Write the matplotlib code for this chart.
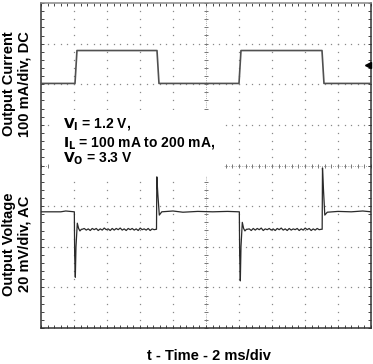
import numpy as np
import matplotlib
matplotlib.use("Agg")
import matplotlib.pyplot as plt
from matplotlib.ticker import MultipleLocator

plt.rcParams['font.family'] = ['Liberation Sans Narrow', 'Liberation Sans', 'DejaVu Sans']
plt.rcParams['font.weight'] = 'bold'
plt.rcParams['mathtext.fontset'] = 'custom'
plt.rcParams['mathtext.rm'] = 'Liberation Sans Narrow:bold'
plt.rcParams['mathtext.it'] = 'Liberation Sans Narrow:bold'
plt.rcParams['mathtext.bf'] = 'Liberation Sans Narrow:bold'

# time in ms (2 ms/div), screen position in divisions (centre = 0)
t_cur = [0, 2.06, 2.18, 7.03, 7.15, 12.0, 12.12, 17.03, 17.15, 20]
i_cur = [2.02, 2.02, 2.83, 2.83, 2.02, 2.02, 2.83, 2.83, 2.02, 2.02]

# output voltage, load step edges
t_step1 = [0, 1.2, 1.5, 2.02, 2.04, 2.08, 2.12, 2.20, 2.28, 2.36, 2.45]
v_step1 = [-1.14, -1.14, -1.12, -1.14, -2.2, -2.75, -2.0, -1.42, -1.55, -1.61, -1.57]
t_rel1 = [7.00, 7.02, 7.08, 7.17, 7.32, 8.0, 8.6, 9.5, 10.4, 11.3, 12.02]
v_rel1 = [-1.57, -0.28, -0.7, -1.22, -1.14, -1.12, -1.15, -1.13, -1.14, -1.13, -1.14]
t_step2 = [12.04, 12.08, 12.12, 12.20, 12.28, 12.36, 12.45]
v_step2 = [-2.2, -2.84, -2.0, -1.40, -1.55, -1.61, -1.57]
t_rel2 = [17.04, 17.06, 17.12, 17.20, 17.35, 18.0, 18.8, 19.5, 20]
v_rel2 = [-1.57, -0.06, -0.6, -1.22, -1.15, -1.13, -1.14, -1.12, -1.14]

# ripple on the loaded level (divisions), read per ~0.12 ms
ripple1 = [-1.57, -1.55, -1.59, -1.56, -1.60, -1.55, -1.58, -1.55, -1.60, -1.56,
           -1.59, -1.54, -1.58, -1.56, -1.60, -1.55, -1.59, -1.55, -1.58, -1.54,
           -1.59, -1.56, -1.60, -1.55, -1.58, -1.55, -1.59, -1.56, -1.60, -1.54,
           -1.58, -1.56, -1.59, -1.55, -1.60, -1.56, -1.58, -1.57]
ripple2 = [-1.57, -1.56, -1.60, -1.55, -1.59, -1.55, -1.58, -1.54, -1.60, -1.56,
           -1.58, -1.55, -1.59, -1.56, -1.60, -1.55, -1.58, -1.54, -1.59, -1.56,
           -1.60, -1.55, -1.59, -1.56, -1.58, -1.55, -1.60, -1.56, -1.59, -1.54,
           -1.58, -1.55, -1.60, -1.56, -1.59, -1.55, -1.58, -1.57]

marker_lvl = 2.48

t_volt = (t_step1 + list(np.linspace(2.5, 6.98, len(ripple1))) + t_rel1
          + t_step2 + list(np.linspace(12.5, 16.98, len(ripple2))) + t_rel2)
v_volt = v_step1 + ripple1 + v_rel1 + v_step2 + ripple2 + v_rel2

fig = plt.figure(figsize=(3.73, 3.64), dpi=100)
ax = fig.add_axes([41/373, 1 - 328/364, 330/373, 325/364])
ax.set_xlim(0, 20)
ax.set_ylim(-4, 4)

# dotted graticule
xs_minor = np.arange(0, 20.01, 0.4)
ys_minor = np.arange(-4, 4.01, 0.2)
dot = dict(ls='none', marker='s', ms=0.9, mew=0, color='#8a8a8a', zorder=1)
for y in [-3, -2, -1, 1, 2, 3]:
    ax.plot(xs_minor, np.full_like(xs_minor, y), **dot)
for x in [2, 4, 6, 8, 12, 14, 16, 18]:
    ax.plot(np.full_like(ys_minor, x), ys_minor, **dot)
# centre cross with tick marks
ax.plot(xs_minor, np.zeros_like(xs_minor), ls=':', lw=0.6, color='#8a8a8a',
        marker='|', ms=3.5, mew=0.7, mec='#777777', zorder=1)
ax.plot(np.full_like(ys_minor, 10), ys_minor, ls=':', lw=0.6, color='#8a8a8a',
        marker='_', ms=3.5, mew=0.7, mec='#777777', zorder=1)

# white box under the conditions text
ax.add_patch(plt.Rectangle((0.55, -0.26), 10.55, 1.63, fc='white', ec='none', zorder=2))

ax.plot(t_cur, i_cur, color='#505050', lw=1.2, zorder=3)
ax.plot(t_volt, v_volt, color='#2a2a2a', lw=0.9, zorder=3)
ax.plot([19.8], [marker_lvl], marker='<', ms=5, color='black', zorder=4, clip_on=False)

fs = 10.5
ax.text(1.33, 0.924, r'$\mathrm{V_I}$ = 1.2 V,', fontsize=10, va='baseline', zorder=5)
ax.text(1.33, 0.478, r'$\mathrm{I_L}$ = 100 mA to 200 mA,', fontsize=10, va='baseline', zorder=5)
ax.text(1.33, 0.062, r'$\mathrm{V_O}$ = 3.3 V', fontsize=10, va='baseline', zorder=5)

ax.xaxis.set_major_locator(MultipleLocator(2))
ax.xaxis.set_minor_locator(MultipleLocator(0.4))
ax.yaxis.set_major_locator(MultipleLocator(1))
ax.yaxis.set_minor_locator(MultipleLocator(0.2))
ax.tick_params(which='both', direction='in', length=2.5, width=0.7, color='#444444',
               top=True, right=True, labelbottom=False, labelleft=False)
for side in ['left', 'bottom', 'right']:
    ax.spines[side].set_color('#333333')
    ax.spines[side].set_linewidth(1.1)
ax.spines['top'].set_color('#8a8a8a')
ax.spines['top'].set_linewidth(1.1)

fig.text(17/373, 1 - 84/364, 'Output Current\n100 mA/div, DC', rotation=90,
         ha='center', va='center', fontsize=fs, linespacing=1.1)
fig.text(17/373, 1 - 244/364, 'Output Voltage\n20 mV/div, AC', rotation=90,
         ha='center', va='center', fontsize=fs, linespacing=1.1)
fig.text(209/373, 1 - 356/364, 't - Time - 2 ms/div', ha='center', va='center', fontsize=fs)

fig.savefig('out.png', dpi=100)
